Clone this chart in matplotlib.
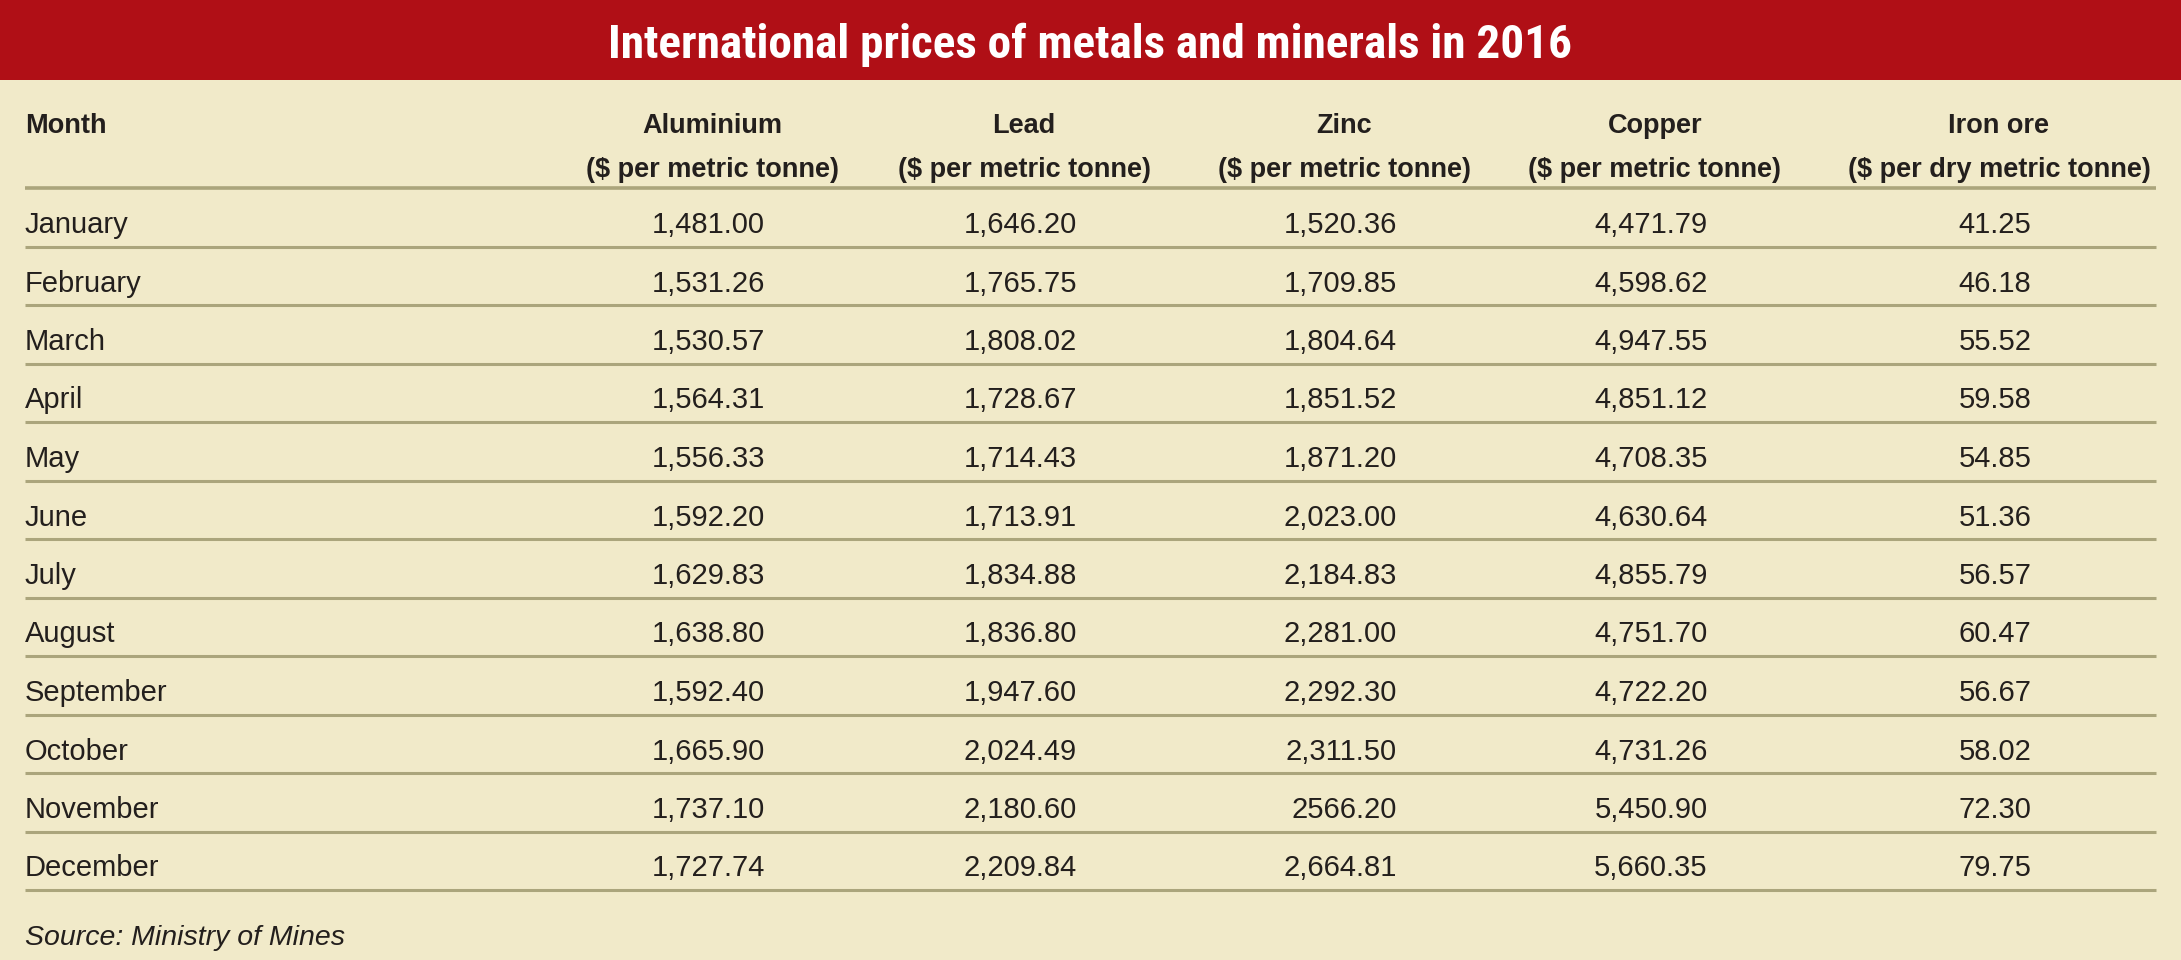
import matplotlib
matplotlib.use("Agg")
import matplotlib.pyplot as plt
from matplotlib import font_manager
from matplotlib.patches import Rectangle

# table data, as printed
months = ["January", "February", "March", "April", "May", "June",
          "July", "August", "September", "October", "November", "December"]
aluminium = ["1,481.00", "1,531.26", "1,530.57", "1,564.31", "1,556.33", "1,592.20",
             "1,629.83", "1,638.80", "1,592.40", "1,665.90", "1,737.10", "1,727.74"]
lead = ["1,646.20", "1,765.75", "1,808.02", "1,728.67", "1,714.43", "1,713.91",
        "1,834.88", "1,836.80", "1,947.60", "2,024.49", "2,180.60", "2,209.84"]
zinc = ["1,520.36", "1,709.85", "1,804.64", "1,851.52", "1,871.20", "2,023.00",
        "2,184.83", "2,281.00", "2,292.30", "2,311.50", "2566.20", "2,664.81"]
copper = ["4,471.79", "4,598.62", "4,947.55", "4,851.12", "4,708.35", "4,630.64",
          "4,855.79", "4,751.70", "4,722.20", "4,731.26", "5,450.90", "5,660.35"]
iron_ore = ["41.25", "46.18", "55.52", "59.58", "54.85", "51.36",
            "56.57", "60.47", "56.67", "58.02", "72.30", "79.75"]

metals = ["Aluminium", "Lead", "Zinc", "Copper", "Iron ore"]
units = ["($ per metric tonne)"] * 4 + ["($ per dry metric tonne)"]
title = "International prices of metals and minerals in 2016"
source = "Source: Ministry of Mines"

RED = "#B00F16"
BG = "#F1EAC9"
RULE = "#ABA57C"
INK = "#231F1D"


def pick_font(names):
    have = {f.name for f in font_manager.fontManager.ttflist}
    for n in names:
        if n in have:
            return n
    return "DejaVu Sans"


body_font = pick_font(["Liberation Sans", "Arial", "Roboto", "DejaVu Sans"])
title_font = pick_font(["Liberation Sans Narrow", "Roboto Condensed",
                        "DejaVu Sans Condensed", "Liberation Sans"])

W, H = 2181, 960
fig = plt.figure(figsize=(W / 100, H / 100), dpi=100)
fig.patch.set_facecolor(BG)
ax = fig.add_axes([0, 0, 1, 1])
ax.set_xlim(0, W)
ax.set_ylim(H, 0)
ax.axis("off")
ax.set_facecolor(BG)

renderer = fig.canvas.get_renderer()

# red title bar
ax.add_patch(Rectangle((0, 0), W, 80, facecolor=RED, edgecolor="none"))
t = ax.text(1090, 58, title, color="white", fontsize=32, fontweight="bold",
            family=title_font, ha="center", va="baseline")
w = t.get_window_extent(renderer).width
t.set_fontsize(32 * 967 / w)

# layout
left, right = 25, 2156
col_centers = [712, 1024, 1344, 1655, 1999]
head_line = 188
row_h = 58.5

# header
ax.text(left, 133, "Month", family=body_font, fontsize=19.5, fontweight="bold",
        color=INK, va="baseline", ha="left")
for cx, m, u in zip(col_centers, metals, units):
    ax.text(cx, 133, m, family=body_font, fontsize=19.5, fontweight="bold",
            color=INK, va="baseline", ha="center")
    ax.text(cx, 177, u, family=body_font, fontsize=19.5, fontweight="bold",
            color=INK, va="baseline", ha="center")

ax.hlines(head_line, left, right, color=RULE, linewidth=2.6)

# rows
columns = [aluminium, lead, zinc, copper, iron_ore]
for i, month in enumerate(months):
    base = head_line + row_h * i + 45
    ax.text(left, base, month, family=body_font, fontsize=21, color=INK,
            va="baseline", ha="left")
    ax.hlines(head_line + row_h * (i + 1), left, right, color=RULE, linewidth=2.2)

for cx, vals in zip(col_centers, columns):
    texts = []
    for i, v in enumerate(vals):
        base = head_line + row_h * i + 45
        texts.append(ax.text(0, base, v, family=body_font, fontsize=21, color=INK,
                             va="baseline", ha="right"))
    maxw = max(tx.get_window_extent(renderer).width for tx in texts)
    for tx in texts:
        tx.set_x(cx - 4 + maxw / 2)

ax.text(left, 945, source, family=body_font, fontsize=20.5, style="italic",
        color=INK, va="baseline", ha="left")

fig.savefig("out.png", dpi=100, facecolor=BG)
